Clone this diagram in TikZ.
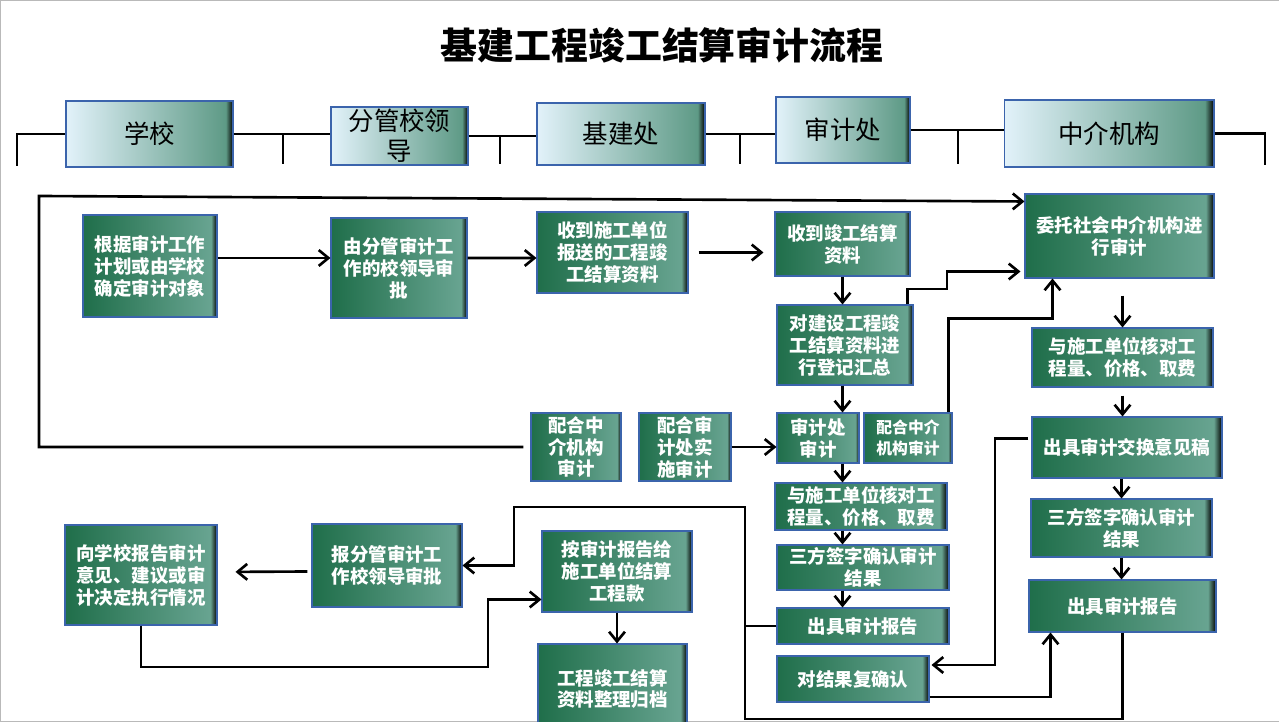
\documentclass[tikz,border=0pt]{standalone}
\usepackage{fontspec}
\setmainfont{Noto Sans CJK SC}
\usetikzlibrary{positioning,calc,arrows.meta}
\definecolor{gleft}{HTML}{1F6E4A}
\definecolor{gright}{HTML}{68A491}
\definecolor{hleft}{HTML}{E2F2FA}
\definecolor{hright}{HTML}{5E9A86}
\definecolor{bline}{HTML}{3B64AC}
\pgfdeclarehorizontalshading{gshade}{100bp}{color(0bp)=(gleft); color(25bp)=(gleft); color(72.8bp)=(gright); color(75bp)=(black); color(100bp)=(black)}
\pgfdeclarehorizontalshading{hshade}{100bp}{color(0bp)=(hleft); color(25bp)=(hleft); color(72.8bp)=(hright); color(75bp)=(black); color(100bp)=(black)}
\begin{document}
\begin{tikzpicture}[line cap=butt,line join=miter,>={Straight Barb[length=5.5pt,width=9pt]},x=0.02cm,y=-0.02cm,line width=1.5pt]
	\tikzset{gbox/.style={shading=gshade,draw=bline,line width=0.6pt,inner sep=0pt,align=center,text=white,
			font=\fontsize{10.5}{12.5}\selectfont\bfseries},
		hbox/.style={shading=hshade,draw=bline,line width=0.6pt,inner sep=0pt,align=center,
			font=\fontsize{14.5}{17}\selectfont}}
	\useasboundingbox (0,0) rectangle (1279,722);
	\draw[gray!55,line width=0.8pt] (1279,0.5)--(0.5,0.5)--(0.5,721.5)--(1279,721.5);
	\node[font=\fontsize{21}{24}\selectfont\bfseries] (title) at (662,45) {基建工程竣工结算审计流程};
	% 表头
	\node[hbox,minimum width=3.34cm,minimum height=1.32cm] (hxx) at (149.5,134) {学校};
	\node[hbox,minimum width=2.74cm,minimum height=1.16cm] (hfg) at (399.5,136) {分管校领\\导};
	\node[hbox,minimum width=3.36cm,minimum height=1.24cm] (hjj) at (621,134) {基建处};
	\node[hbox,minimum width=2.68cm,minimum height=1.32cm] (hsj) at (843,130) {审计处};
	\node[hbox,minimum width=4.2cm,minimum height=1.34cm] (hzj) at (1109,133.5) {中介机构};
	\coordinate (lt) at (17,166);
	\coordinate (rt) at (1265,165);
	\draw (lt) |- (hxx.west);
	\draw (hxx.east)--(hxx.east -| hfg.west);
	\draw (hfg.east)--(hfg.east -| hjj.west);
	\draw (hjj.east)--(hjj.east -| hsj.west);
	\draw (hsj.east)--(hsj.east -| hzj.west);
	\draw (hzj.east) -| (rt);
	\foreach \x/\y in {283/134,500/136,740/134,958/130}{
		\draw (\x,\y)--(\x,164);}
	% 流程框
	\node[gbox,minimum width=2.68cm,minimum height=2.04cm] (a1) at (150,266) {根据审计工作\\计划或由学校\\确定审计对象};
	\node[gbox,minimum width=2.72cm,minimum height=2cm] (a2) at (399,268) {由分管审计工\\作的校领导审\\批};
	\node[gbox,minimum width=3.02cm,minimum height=1.62cm] (a3) at (612.5,252.5) {收到施工单位\\报送的工程竣\\工结算资料};
	\node[gbox,minimum width=2.7cm,minimum height=1.28cm] (a4) at (842.5,244) {收到竣工结算\\资料};
	\node[gbox,minimum width=3.78cm,minimum height=1.68cm] (a5) at (1119.5,236) {委托社会中介机构进\\行审计};
	\node[gbox,minimum width=2.72cm,minimum height=1.6cm] (b4) at (845,345) {对建设工程竣\\工结算资料进\\行登记汇总};
	\node[gbox,minimum width=1.8cm,minimum height=1.36cm] (c2) at (576,447) {配合中\\介机构\\审计};
	\node[gbox,minimum width=1.84cm,minimum height=1.36cm] (c3) at (685,447) {配合审\\计处实\\施审计};
	\node[gbox,minimum width=1.64cm,minimum height=1cm] (c4) at (818,438) {审计处\\审计};
	\node[gbox,minimum width=1.76cm,minimum height=1cm,font=\fontsize{9}{12}\selectfont\bfseries] (c5) at (908,438) {配合中介\\机构审计};
	\node[gbox,minimum width=3.44cm,minimum height=0.94cm] (d4) at (861,506.5) {与施工单位核对工\\程量、价格、取费};
	\node[gbox,minimum width=3.44cm,minimum height=0.9cm] (e4) at (863,567.5) {三方签字确认审计\\结果};
	\node[gbox,minimum width=3.44cm,minimum height=0.72cm] (f4) at (863,626) {出具审计报告};
	\node[gbox,minimum width=3.04cm,minimum height=0.92cm] (g4) at (853,679) {对结果复确认};
	\node[gbox,minimum width=3.62cm,minimum height=1.18cm] (r1) at (1122.5,357.5) {与施工单位核对工\\程量、价格、取费};
	\node[gbox,minimum width=3.8cm,minimum height=1.22cm] (r2) at (1127,447.5) {出具审计交换意见稿};
	\node[gbox,minimum width=3.62cm,minimum height=1.16cm] (r3) at (1121.5,528) {三方签字确认审计\\结果};
	\node[gbox,minimum width=3.74cm,minimum height=1.04cm] (r4) at (1122.5,606) {出具审计报告};
	\node[gbox,minimum width=3.04cm,minimum height=2cm] (h1) at (141,575) {向学校报告审计\\意见、建议或审\\计决定执行情况};
	\node[gbox,minimum width=3cm,minimum height=1.66cm] (h2) at (387,565.5) {报分管审计工\\作校领导审批};
	\node[gbox,minimum width=3cm,minimum height=1.62cm] (h3) at (617,571.5) {按审计报告给\\施工单位结算\\工程款};
	\node[gbox,minimum width=2.98cm,minimum height=1.8cm] (h4) at (612.5,689) {工程竣工结算\\资料整理归档};
	% 连线
	\draw[->] ($(a1.east)+(0,-8)$)--($(a2.west)+(0,-10)$);
	\draw[->] ($(a2.east)+(0,-10)$)--($(a3.west)+(0,5.5)$);
	\draw[->,shorten <=0.2cm,shorten >=0.22cm] (a3.east)--(a3.east -| a4.west);
	\draw[->] (a4.south)--(a4.south |- b4.north);
	\draw[->] (a4.south |- b4.south)--(a4.south |- c4.north);
	\draw[->] (a4.south |- c4.south)--(a4.south |- d4.north);
	\draw[->] (a4.south |- d4.south)--(a4.south |- e4.north);
	\draw[->] (a4.south |- e4.south)--(a4.south |- f4.north);
	\draw[->] (c3.east)--(c3.east -| c4.west);
	\draw[->,shorten <=0.14cm] (c2.west) -| (39,196)--($(a5.north west)+(0,8)$);
	\draw[->,shorten >=0.08cm] ($(b4.north east)+(-6,0)$) |- (947,289) |- ($(a5.south west)+(0,-7)$);
	\draw[->] ($(c5.north east)+(-4,0)$) |- ($(a5.south west)+(28,40)$)--($(a5.south west)+(28,0)$);
	\draw[->,shorten <=0.34cm] (r1.north |- a5.south)--(r1.north);
	\draw[->,shorten <=0.16cm] (r1.south)--(r1.south |- r2.north);
	\draw[->] (r3.north |- r2.south)--(r3.north);
	\draw[->] (r3.south)--(r3.south |- r4.north);
	\draw[->] ($(r2.west)+(-3,-9)$) -| (995,665)--($(g4.east)+(2,-14)$);
	\draw[->] ($(g4.east)+(0,18)$) -| ($(r4.south west)+(22,0)$);
	\draw[->] (r4.south) |- (745,719) |- (514,507) |- (h2.east);
	\draw (f4.west)--+(-32,0);
	\draw[->,shorten >=0.36cm] ($(h2.west)+(-4,6)$)--($(h1.east)+(0,-3)$);
	\draw[->] (h1.south) |- (488,667) |- ($(h3.west)+(0,28)$);
	\draw[->] (h3.south)--(h3.south |- h4.north);
\end{tikzpicture}
\end{document}
